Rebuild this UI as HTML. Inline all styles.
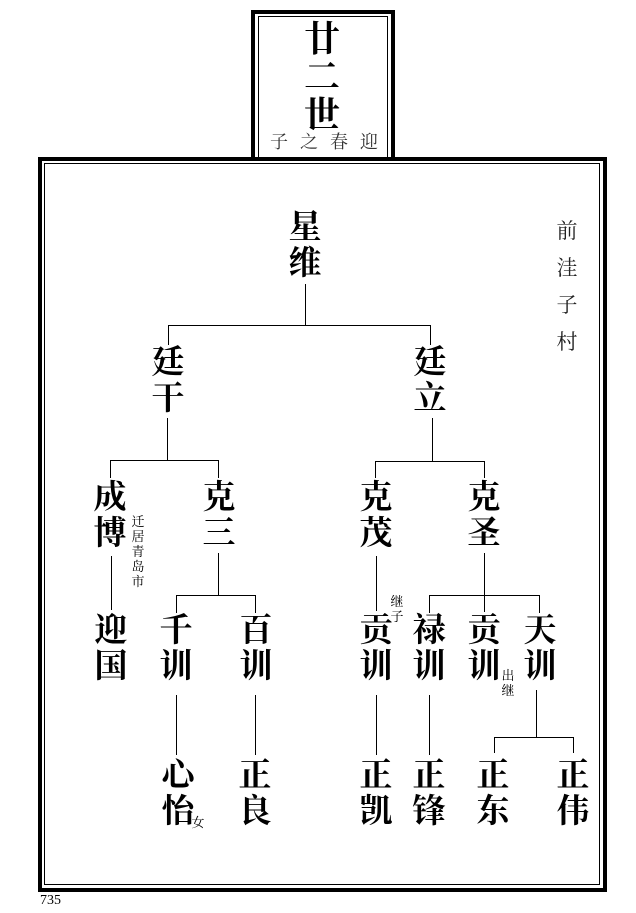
<!DOCTYPE html>
<html><head><meta charset="utf-8"><style>
body{margin:0;background:#fff;}
#p{position:relative;width:636px;height:913px;overflow:hidden;background:#fff;}
.b{position:absolute;width:44px;margin-left:-22px;text-align:center;font-family:"Liberation Serif","Noto Serif CJK SC",serif;font-weight:bold;font-size:33px;line-height:36px;color:#000;}
.s{position:absolute;width:16px;margin-left:-8px;text-align:center;font-family:"Liberation Serif","Noto Serif CJK SC",serif;font-size:13px;line-height:15px;color:#000;}
.r{position:absolute;width:30px;margin-left:-15px;text-align:center;font-family:"Liberation Serif","Noto Serif CJK SC",serif;font-size:21px;line-height:37px;color:#222;}
.t{position:absolute;width:24px;margin-left:-12px;text-align:center;top:131px;font-family:"Liberation Serif","Noto Serif CJK SC",serif;font-size:18px;line-height:22px;color:#333;}
.h{position:absolute;height:1px;background:#000;}
.v{position:absolute;width:1px;background:#000;}
.box{position:absolute;box-sizing:border-box;}
</style></head><body><div id="p">
<div class="box" style="left:251px;top:10px;width:144px;height:150px;border:4px solid #000;border-bottom:none;background:#fff;"></div>
<div class="box" style="left:258px;top:16px;width:130px;height:144px;border:1px solid #000;border-bottom:none;"></div>
<div class="b" style="left:322px;top:20px;font-size:36px;line-height:38px;">廿<br>二<br>世</div>
<div class="t" style="left:279px;">子</div>
<div class="t" style="left:309px;">之</div>
<div class="t" style="left:339px;">春</div>
<div class="t" style="left:369px;">迎</div>

<div class="box" style="left:38px;top:157px;width:569px;height:735px;border:4px solid #000;"></div>
<div class="box" style="left:44px;top:163px;width:556px;height:722px;border:1px solid #000;"></div>

<div class="r" style="left:567px;top:213px;">前<br>洼<br>子<br>村</div>

<div class="b" style="left:305px;top:210px;">星<br>维</div>
<div class="v" style="left:305px;top:284px;height:41px;"></div>
<div class="h" style="left:168px;top:325px;width:263px;"></div>
<div class="v" style="left:168px;top:325px;height:20px;"></div>
<div class="v" style="left:430px;top:325px;height:20px;"></div>

<div class="b" style="left:168px;top:345px;">廷<br>干</div>
<div class="b" style="left:430px;top:345px;">廷<br>立</div>
<div class="v" style="left:167px;top:418px;height:43px;"></div>
<div class="h" style="left:110px;top:460px;width:109px;"></div>
<div class="v" style="left:110px;top:460px;height:18px;"></div>
<div class="v" style="left:218px;top:460px;height:18px;"></div>
<div class="v" style="left:432px;top:418px;height:44px;"></div>
<div class="h" style="left:375px;top:461px;width:110px;"></div>
<div class="v" style="left:375px;top:461px;height:17px;"></div>
<div class="v" style="left:484px;top:461px;height:17px;"></div>

<div class="b" style="left:110px;top:480px;">成<br>博</div>
<div class="s" style="left:138px;top:514px;">迁<br>居<br>青<br>岛<br>市</div>
<div class="b" style="left:219px;top:480px;">克<br>三</div>
<div class="b" style="left:376px;top:480px;">克<br>茂</div>
<div class="b" style="left:484px;top:480px;">克<br>圣</div>

<div class="v" style="left:111px;top:556px;height:54px;"></div>
<div class="v" style="left:218px;top:553px;height:42px;"></div>
<div class="h" style="left:176px;top:595px;width:80px;"></div>
<div class="v" style="left:176px;top:595px;height:18px;"></div>
<div class="v" style="left:255px;top:595px;height:18px;"></div>
<div class="v" style="left:376px;top:556px;height:55px;"></div>
<div class="s" style="left:397px;top:594px;">继<br>子</div>
<div class="v" style="left:484px;top:553px;height:59px;"></div>
<div class="h" style="left:429px;top:595px;width:111px;"></div>
<div class="v" style="left:429px;top:595px;height:18px;"></div>
<div class="v" style="left:539px;top:595px;height:18px;"></div>

<div class="b" style="left:111px;top:613px;">迎<br>国</div>
<div class="b" style="left:176px;top:613px;">千<br>训</div>
<div class="b" style="left:256px;top:613px;">百<br>训</div>
<div class="b" style="left:376px;top:613px;">贡<br>训</div>
<div class="b" style="left:429px;top:613px;">禄<br>训</div>
<div class="b" style="left:484px;top:613px;">贡<br>训</div>
<div class="s" style="left:508px;top:668px;">出<br>继</div>
<div class="b" style="left:540px;top:613px;">天<br>训</div>

<div class="v" style="left:176px;top:695px;height:60px;"></div>
<div class="v" style="left:255px;top:695px;height:60px;"></div>
<div class="v" style="left:376px;top:695px;height:60px;"></div>
<div class="v" style="left:429px;top:695px;height:60px;"></div>
<div class="v" style="left:536px;top:690px;height:47px;"></div>
<div class="h" style="left:494px;top:737px;width:80px;"></div>
<div class="v" style="left:494px;top:737px;height:16px;"></div>
<div class="v" style="left:573px;top:737px;height:16px;"></div>

<div class="b" style="left:178px;top:758px;">心<br>怡</div>
<div class="s" style="left:198px;top:815px;">女</div>
<div class="b" style="left:255px;top:758px;">正<br>良</div>
<div class="b" style="left:376px;top:758px;">正<br>凯</div>
<div class="b" style="left:429px;top:758px;">正<br>锋</div>
<div class="b" style="left:493px;top:758px;">正<br>东</div>
<div class="b" style="left:573px;top:758px;">正<br>伟</div>

<div style="position:absolute;left:40px;top:893px;font-family:'Liberation Serif',serif;font-size:14px;color:#000;">735</div>
</div></body></html>
